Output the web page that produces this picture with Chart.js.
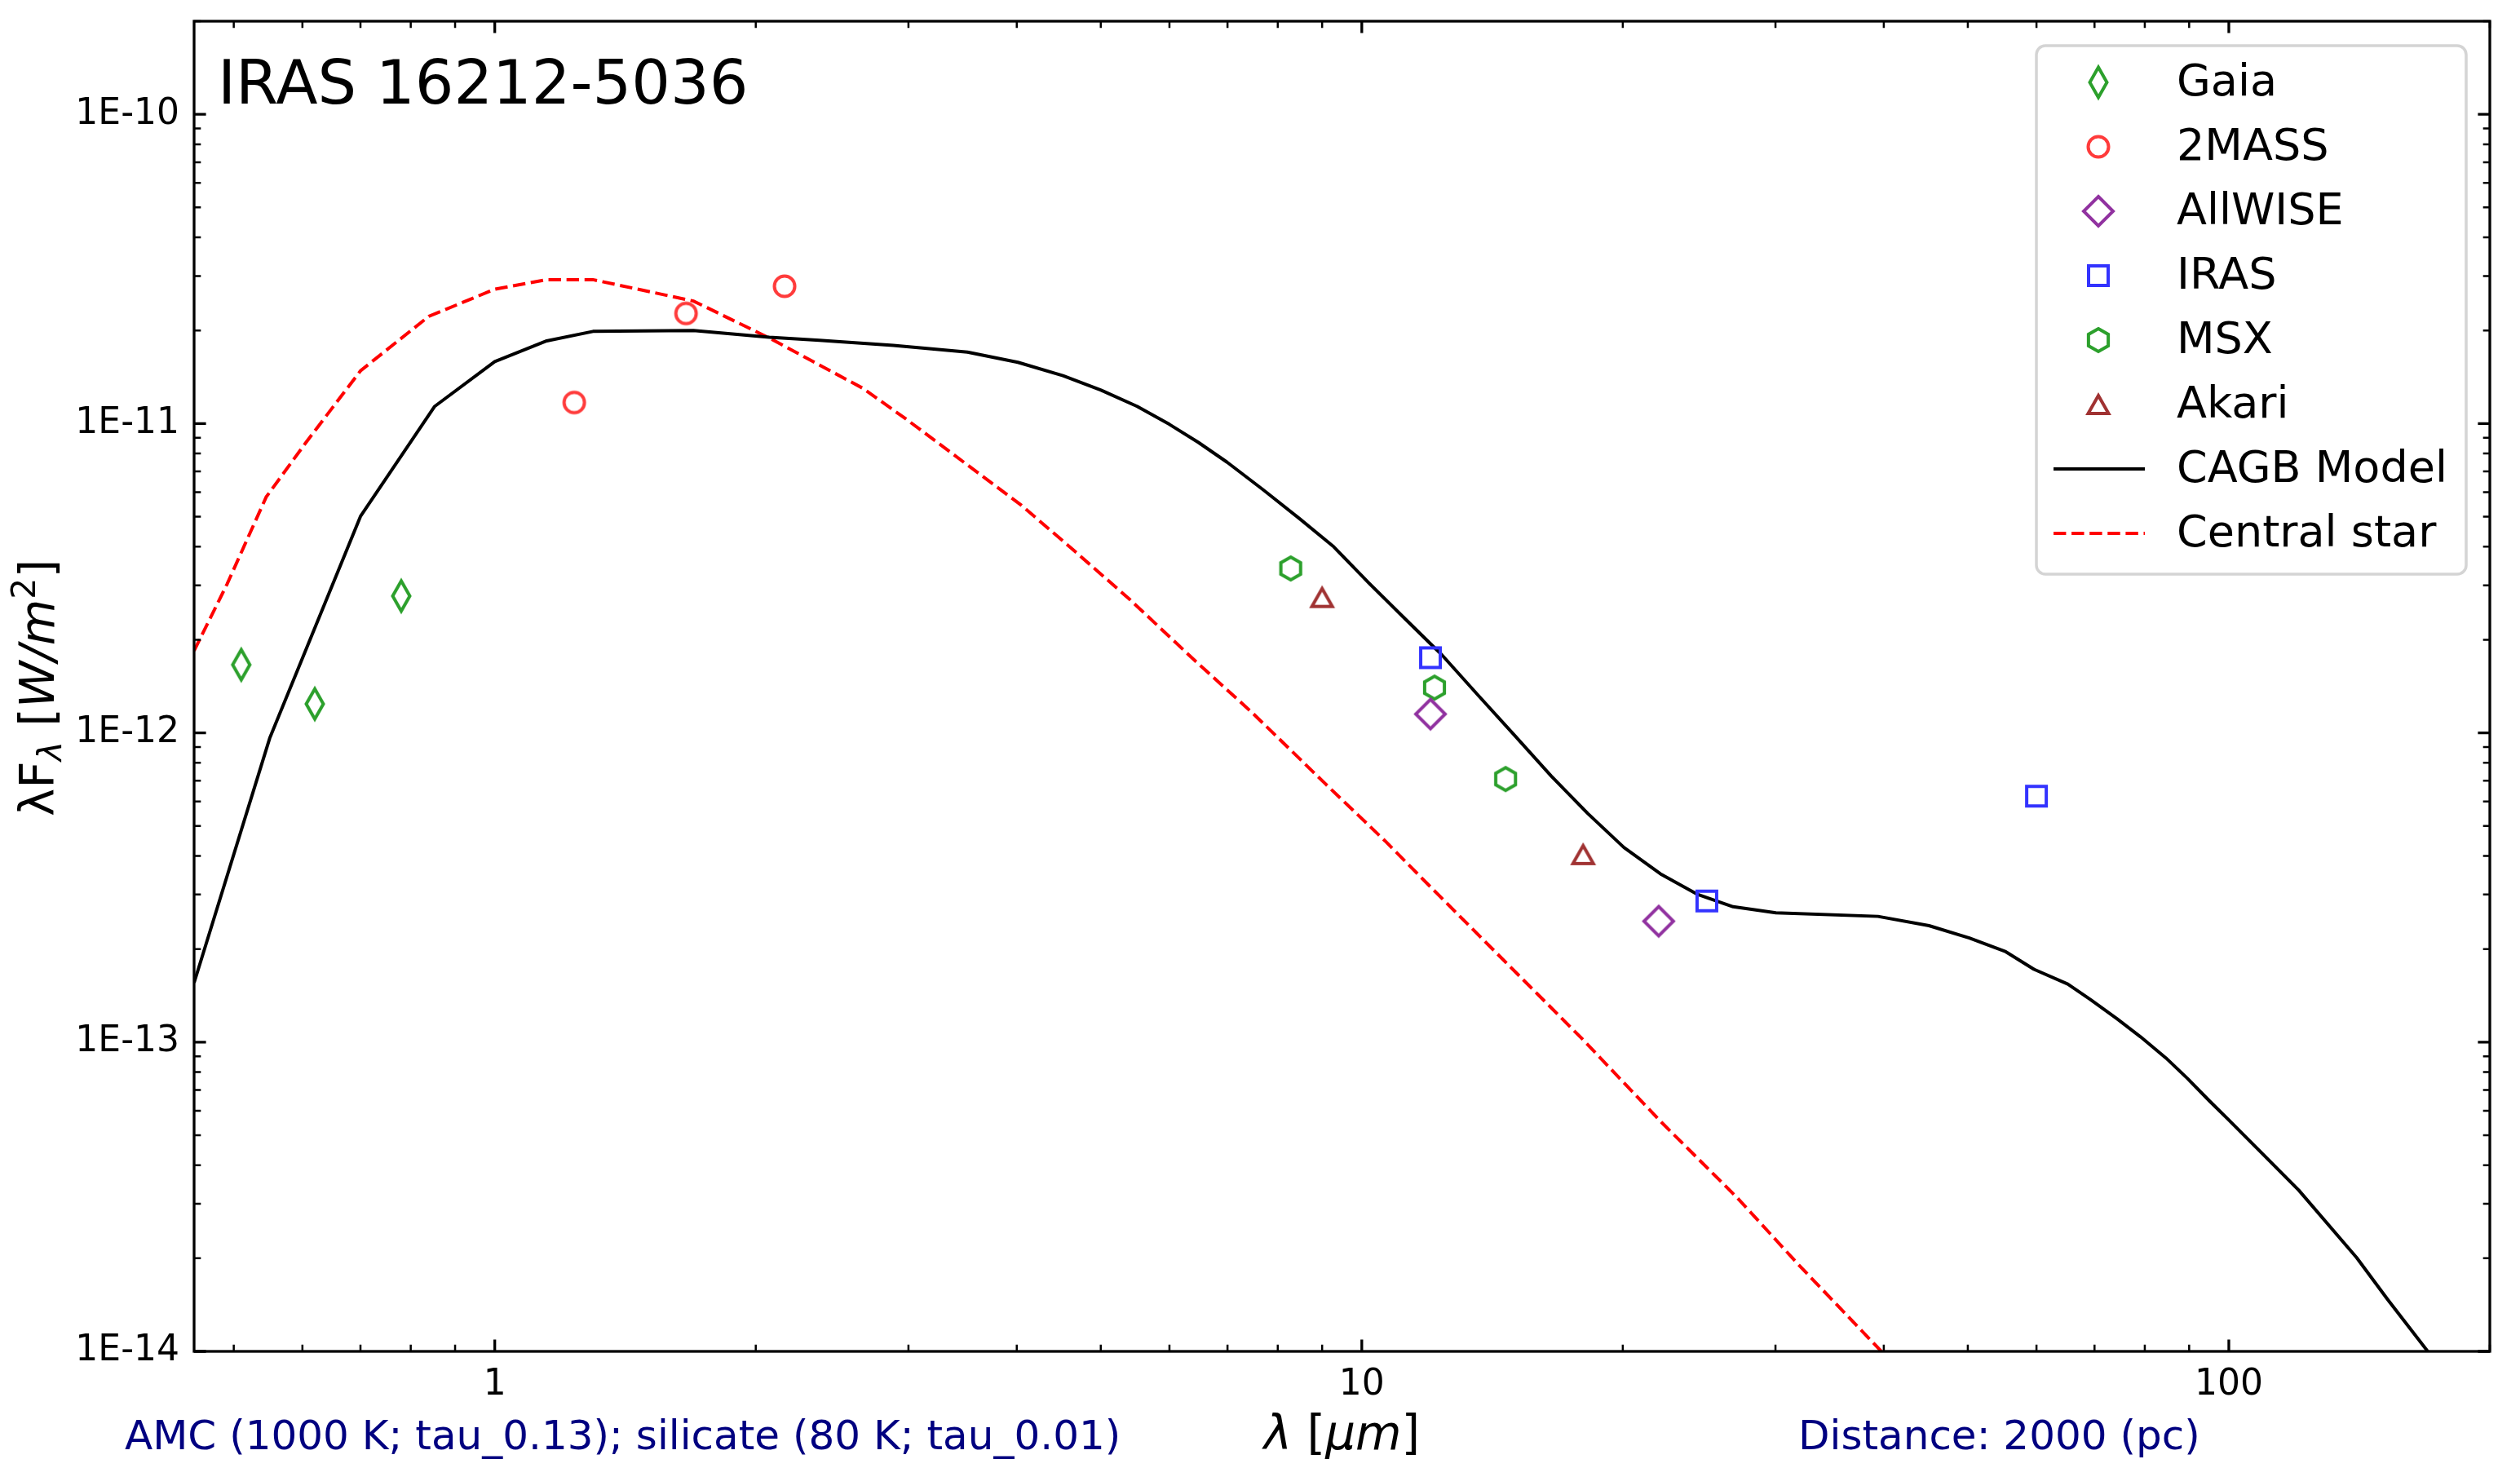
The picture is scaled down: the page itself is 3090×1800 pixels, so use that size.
<!DOCTYPE html>
<html>
<head>
<meta charset="utf-8">
<title>IRAS 16212-5036 SED</title>
<script src="https://cdn.jsdelivr.net/npm/chart.js@4.4.1/dist/chart.umd.min.js"></script>
<style>
  html, body { margin: 0; padding: 0; background: #fff; }
  #sed { display: block; }
</style>
</head>
<body>
<canvas id="sed" width="3090" height="1800"></canvas>
<script>
// photometry (wavelength in micron, lambda*F_lambda in W/m^2)
const gaiaWave = [0.51, 0.62, 0.78];
const gaiaFlux = [1.66e-12, 1.24e-12, 2.77e-12];
const twomassWave = [1.235, 1.662, 2.159];
const twomassFlux = [1.17e-11, 2.27e-11, 2.78e-11];
const allwiseWave = [12.0, 22.0];
const allwiseFlux = [1.15e-12, 2.46e-13];
const irasWave = [12, 25, 60];
const irasFlux = [1.75e-12, 2.86e-13, 6.24e-13];
const msxWave = [8.28, 12.13, 14.65];
const msxFlux = [3.40e-12, 1.40e-12, 7.09e-13];
const akariWave = [9, 18];
const akariFlux = [2.74e-12, 4.04e-13];

// CAGB model
const modelWave = [0.45, 0.55, 0.70, 0.852, 1.0, 1.148, 1.298, 1.695, 2.073, 2.368, 2.882, 3.509, 4.012,
  4.522, 5.003, 5.506, 6.0, 6.48, 6.993, 7.70, 8.48, 9.26, 10.19, 11.23, 12.37, 13.62, 15.01, 16.54,
  18.22, 20.06, 22.1, 24.35, 26.81, 30.03, 39.38, 45.1, 50.2, 55.3, 59.6, 65.2, 69.3, 74.3, 79.1, 84.6,
  89.6, 95.0, 99.8, 109.4, 120.4, 140.4, 152.5, 169.6];
const modelFlux = [1.556e-13, 9.60e-13, 5.01e-12, 1.135e-11, 1.587e-11, 1.851e-11, 1.986e-11, 2.0e-11,
  1.902e-11, 1.86e-11, 1.791e-11, 1.702e-11, 1.578e-11, 1.429e-11, 1.283e-11, 1.137e-11, 9.94e-12,
  8.69e-12, 7.50e-12, 6.10e-12, 4.92e-12, 4.02e-12, 3.05e-12, 2.33e-12, 1.787e-12, 1.323e-12, 9.80e-13,
  7.25e-13, 5.49e-13, 4.26e-13, 3.50e-13, 3.01e-13, 2.74e-13, 2.62e-13, 2.55e-13, 2.38e-13, 2.17e-13,
  1.96e-13, 1.72e-13, 1.54e-13, 1.37e-13, 1.19e-13, 1.04e-13, 8.89e-14, 7.63e-14, 6.45e-14, 5.63e-14,
  4.35e-14, 3.32e-14, 2.01e-14, 1.47e-14, 1.0e-14];

// central star
const starWave = [0.45, 0.491, 0.545, 0.605, 0.70, 0.839, 1.0, 1.148, 1.298, 1.695, 2.073, 2.657, 2.98,
  3.475, 4.05, 4.63, 5.40, 6.42, 7.48, 9.06, 10.64, 12.19, 14.72, 17.96, 22.17, 27.07, 31.88, 39.74];
const starFlux = [1.842e-12, 3.02e-12, 5.79e-12, 8.65e-12, 1.481e-11, 2.22e-11, 2.72e-11, 2.92e-11,
  2.92e-11, 2.49e-11, 1.891e-11, 1.301e-11, 1.035e-11, 7.50e-12, 5.44e-12, 3.94e-12, 2.70e-12,
  1.712e-12, 1.160e-12, 6.88e-13, 4.47e-13, 3.04e-13, 1.79e-13, 1.024e-13, 5.50e-14, 3.15e-14,
  1.91e-14, 1.0e-14];

const xLabels = ['1', '10', '100'];
const titleText = 'IRAS 16212-5036';
const noteLeft = 'AMC (1000 K; tau_0.13); silicate (80 K; tau_0.01)';
const noteRight = 'Distance: 2000 (pc)';

const FONT = '"DejaVu Sans", "Liberation Sans", sans-serif';
const COLORS = {
  gaia: '#2ca02c',
  twomass: '#ff3b3b',
  allwise: '#9132a0',
  iras: '#3333ff',
  msx: '#2ca02c',
  akari: '#a03232',
};

// open markers drawn once into small canvases, used as pointStyle
function makeMarker(shape, color) {
  const size = 48;
  const c = document.createElement('canvas');
  c.width = size;
  c.height = size;
  const g = c.getContext('2d');
  const m = size / 2;
  g.strokeStyle = color;
  g.lineWidth = 4;
  g.lineJoin = 'miter';
  g.beginPath();
  switch (shape) {
    case 'thinDiamond':
      g.moveTo(m, m - 18.5); g.lineTo(m + 10.5, m); g.lineTo(m, m + 18.5); g.lineTo(m - 10.5, m);
      break;
    case 'circle':
      g.arc(m, m, 12.5, 0, Math.PI * 2);
      break;
    case 'diamond':
      g.moveTo(m, m - 18); g.lineTo(m + 18, m); g.lineTo(m, m + 18); g.lineTo(m - 18, m);
      break;
    case 'square':
      g.rect(m - 12, m - 12, 24, 24);
      break;
    case 'hexagon':
      for (let i = 0; i < 6; i++) {
        const a = -Math.PI / 2 + i * Math.PI / 3;
        const px = m + 14 * Math.cos(a);
        const py = m + 14 * Math.sin(a);
        if (i === 0) g.moveTo(px, py); else g.lineTo(px, py);
      }
      break;
    case 'triangle':
      g.moveTo(m, m - 11); g.lineTo(m + 12.5, m + 11); g.lineTo(m - 12.5, m + 11);
      break;
  }
  g.closePath();
  g.stroke();
  return c;
}

const toPoints = (xs, ys) => xs.map((x, i) => ({ x: x, y: ys[i] }));

function markerSet(label, xs, ys, shape, color) {
  return {
    label: label,
    data: toPoints(xs, ys),
    showLine: false,
    pointStyle: makeMarker(shape, color),
    pointRadius: 12,
    order: 0,
  };
}

const datasets = [
  markerSet('Gaia', gaiaWave, gaiaFlux, 'thinDiamond', COLORS.gaia),
  markerSet('2MASS', twomassWave, twomassFlux, 'circle', COLORS.twomass),
  markerSet('AllWISE', allwiseWave, allwiseFlux, 'diamond', COLORS.allwise),
  markerSet('IRAS', irasWave, irasFlux, 'square', COLORS.iras),
  markerSet('MSX', msxWave, msxFlux, 'hexagon', COLORS.msx),
  markerSet('Akari', akariWave, akariFlux, 'triangle', COLORS.akari),
  {
    label: 'CAGB Model',
    data: toPoints(modelWave, modelFlux),
    showLine: true,
    borderColor: '#000000',
    borderWidth: 4,
    borderJoinStyle: 'round',
    pointRadius: 0,
    tension: 0,
    order: 1,
  },
  {
    label: 'Central star',
    data: toPoints(starWave, starFlux),
    showLine: true,
    borderColor: '#ff0000',
    borderWidth: 4,
    borderDash: [15.4, 6.7],
    pointRadius: 0,
    tension: 0,
    order: 1,
  },
];

function logTicks(min, max) {
  const major = [];
  const minor = [];
  for (let e = Math.floor(Math.log10(min)); e <= Math.ceil(Math.log10(max)); e++) {
    for (let k = 1; k < 10; k++) {
      const v = k * Math.pow(10, e);
      if (v < min * 0.9999 || v > max * 1.0001) continue;
      (k === 1 ? major : minor).push(v);
    }
  }
  return { major, minor };
}

function drawRich(ctx, parts, x, y, align) {
  // parts: [text, size, italic, dy]
  let total = 0;
  parts.forEach((p) => {
    ctx.font = (p[2] ? 'italic ' : '') + p[1] + 'px ' + FONT;
    total += ctx.measureText(p[0]).width;
  });
  let cx = align === 'center' ? x - total / 2 : x;
  ctx.textAlign = 'left';
  ctx.textBaseline = 'alphabetic';
  parts.forEach((p) => {
    ctx.font = (p[2] ? 'italic ' : '') + p[1] + 'px ' + FONT;
    ctx.fillText(p[0], cx, y + (p[3] || 0));
    cx += ctx.measureText(p[0]).width;
  });
}

const sedAxes = {
  id: 'sedAxes',
  afterDatasetsDraw(chart) {
    const ctx = chart.ctx;
    const area = chart.chartArea;
    const xs = chart.scales.x;
    const ys = chart.scales.y;
    const xt = logTicks(xs.min, xs.max);
    const yt = logTicks(ys.min, ys.max);

    ctx.save();
    ctx.strokeStyle = '#000';
    ctx.lineCap = 'butt';

    const tick = (vals, len, width) => {
      ctx.lineWidth = width;
      vals.forEach((v) => {
        const p = xs.getPixelForValue(v);
        ctx.beginPath();
        ctx.moveTo(p, area.bottom); ctx.lineTo(p, area.bottom - len);
        ctx.moveTo(p, area.top); ctx.lineTo(p, area.top + len);
        ctx.stroke();
      });
    };
    const ytick = (vals, len, width) => {
      ctx.lineWidth = width;
      vals.forEach((v) => {
        const p = ys.getPixelForValue(v);
        ctx.beginPath();
        ctx.moveTo(area.left, p); ctx.lineTo(area.left + len, p);
        ctx.moveTo(area.right, p); ctx.lineTo(area.right - len, p);
        ctx.stroke();
      });
    };
    tick(xt.minor, 8.3, 2.5);
    tick(xt.major, 14.6, 3.3);
    ytick(yt.minor, 8.3, 2.5);
    ytick(yt.major, 14.6, 3.3);

    ctx.lineWidth = 3.3;
    ctx.strokeRect(area.left, area.top, area.right - area.left, area.bottom - area.top);

    // tick labels
    ctx.fillStyle = '#000';
    ctx.font = '44px ' + FONT;
    ctx.textAlign = 'center';
    ctx.textBaseline = 'alphabetic';
    xt.major.forEach((v, i) => {
      ctx.fillText(xLabels[i], xs.getPixelForValue(v), 1710);
    });
    ctx.textAlign = 'right';
    ctx.textBaseline = 'middle';
    yt.major.forEach((v) => {
      ctx.fillText('1E' + Math.round(Math.log10(v)), 220, ys.getPixelForValue(v));
    });

    // axis titles
    const midX = (area.left + area.right) / 2;
    drawRich(ctx, [['λ', 58, true], [' [', 58, false], ['μm', 58, true], [']', 58, false]], midX, 1777, 'center');

    ctx.save();
    ctx.translate(66, (area.top + area.bottom) / 2 + 2);
    ctx.rotate(-Math.PI / 2);
    drawRich(ctx, [['λF', 58, false], ['λ', 41, true, 9], [' [', 58, false], ['W/m', 58, true],
      ['2', 41, false, -23], [']', 58, false]], 0, 0, 'center');
    ctx.restore();

    // title and notes
    ctx.textAlign = 'left';
    ctx.textBaseline = 'alphabetic';
    ctx.font = '75px ' + FONT;
    ctx.fillText(titleText, 267, 127);
    ctx.fillStyle = '#000080';
    ctx.font = '50px ' + FONT;
    ctx.fillText(noteLeft, 153, 1777);
    ctx.fillText(noteRight, 2205, 1777);

    // legend
    const box = { x: 2497, y: 56, w: 527, h: 648 };
    ctx.beginPath();
    ctx.roundRect(box.x, box.y, box.w, box.h, 11);
    ctx.fillStyle = 'rgba(255,255,255,0.8)';
    ctx.fill();
    ctx.strokeStyle = '#d4d4d4';
    ctx.lineWidth = 3.5;
    ctx.stroke();

    ctx.font = '54px ' + FONT;
    ctx.textBaseline = 'middle';
    chart.data.datasets.forEach((ds, i) => {
      const y = 101 + i * 79;
      if (ds.showLine) {
        ctx.beginPath();
        ctx.strokeStyle = ds.borderColor;
        ctx.lineWidth = ds.borderWidth;
        ctx.setLineDash(ds.borderDash || []);
        ctx.moveTo(2518, y);
        ctx.lineTo(2630, y);
        ctx.stroke();
        ctx.setLineDash([]);
      } else {
        const img = ds.pointStyle;
        ctx.drawImage(img, 2573 - img.width / 2, y - img.height / 2);
      }
      ctx.fillStyle = '#000';
      ctx.fillText(ds.label, 2669, y + 2);
    });
    ctx.restore();
  },
};

new Chart(document.getElementById('sed').getContext('2d'), {
  type: 'scatter',
  data: { datasets: datasets },
  options: {
    responsive: false,
    animation: false,
    devicePixelRatio: 1,
    layout: { padding: { left: 238, right: 37, top: 26, bottom: 143 } },
    plugins: { legend: { display: false }, tooltip: { enabled: false } },
    scales: {
      x: { type: 'logarithmic', min: 0.45, max: 200, display: false },
      y: { type: 'logarithmic', min: 1e-14, max: 2e-10, display: false },
    },
  },
  plugins: [sedAxes],
});
</script>
</body>
</html>
